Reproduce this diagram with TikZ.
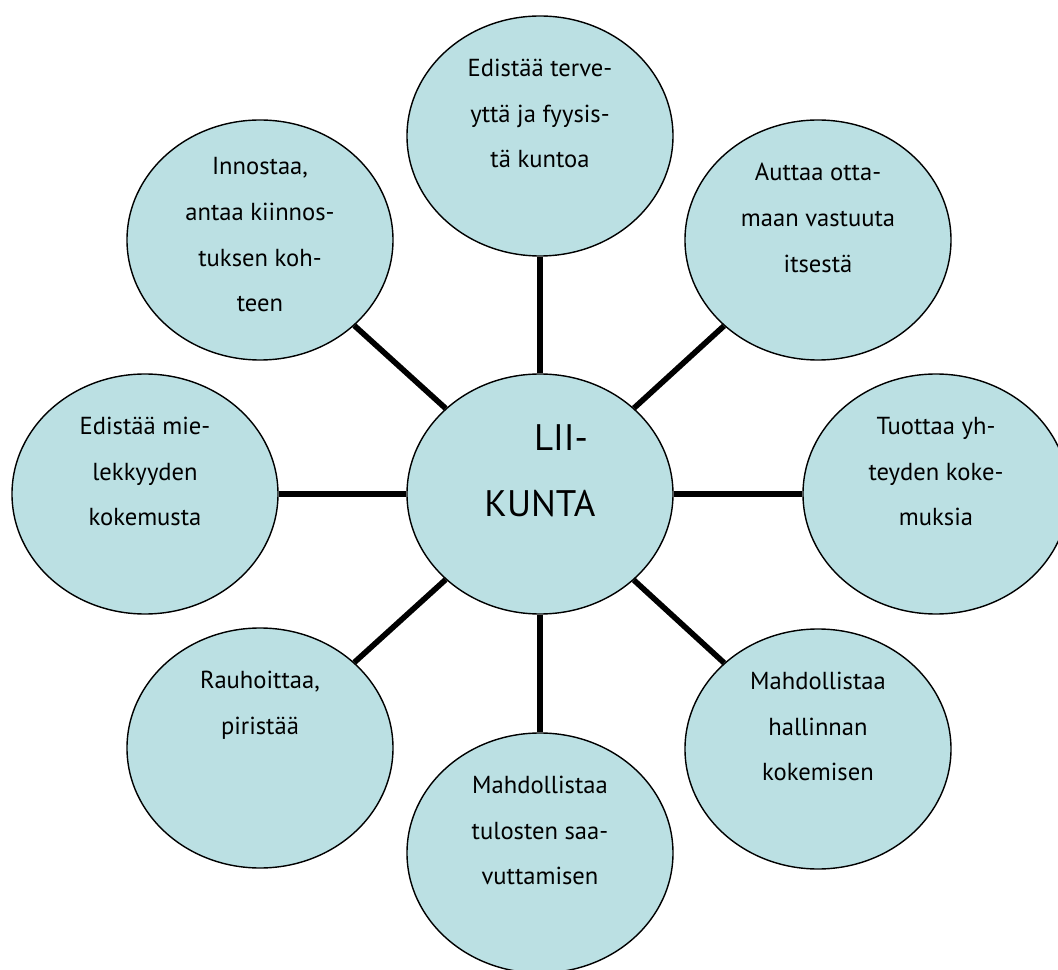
\documentclass[tikz,border=0pt]{standalone}
\usepackage{fontspec}
\setmainfont{PT Sans}
\usetikzlibrary{positioning,shapes.geometric}
\definecolor{pale}{RGB}{187,224,227}

\begin{document}
\begin{tikzpicture}[main/.style = {draw, ellipse, on grid, fill=pale, line width=0.8pt, minimum width=5.32cm, minimum height=4.8cm, inner sep=0pt}, txt/.style = {align=center, inner sep=0pt, font=\fontsize{14}{26}\selectfont}, link/.style = {line width=3.2pt}]
		\useasboundingbox (-10.8,-9.52) rectangle (10.36,9.88);
		\node[main] (0) {};
		\node[main] (1) [above=7.16cm of 0] {};
		\node[main] (2) [above right=5.08cm and 5.56cm of 0] {};
		\node[main] (3) [right=7.92cm of 0] {};
		\node[main] (4) [below right=5.1cm and 5.56cm of 0] {};
		\node[main] (5) [below=7.18cm of 0] {};
		\node[main] (6) [below left=5.08cm and 5.6cm of 0] {};
		\node[main] (7) [left=7.9cm of 0] {};
		\node[main] (8) [above left=5.08cm and 5.6cm of 0] {};
		\foreach \i in {1,...,8}
			\draw[link] (0) -- (\i);
		% texts
		\node[txt, font=\fontsize{21}{37.6}\selectfont] (t0) [below=1.02cm of 0.north] {\hspace*{0.84cm}LII-\\KUNTA};
		\node[txt] (t1) [below=0.87cm of 1.north] {Edistää terve-\\yttä ja fyysis-\\tä kuntoa};
		\node[txt] (t2) [below=0.87cm of 2.north] {Auttaa otta-\\maan vastuuta\\itsestä};
		\node[txt] (t3) [below=0.87cm of 3.north] {Tuottaa yh-\\teyden koke-\\muksia};
		\node[txt] (t4) [below=0.87cm of 4.north] {Mahdollistaa\\hallinnan\\kokemisen};
		\node[txt] (t5) [below=0.87cm of 5.north] {Mahdollistaa\\tulosten saa-\\vuttamisen};
		\node[txt] (t6) [below=0.87cm of 6.north] {Rauhoittaa,\\piristää};
		\node[txt] (t7) [below=0.87cm of 7.north] {Edistää mie-\\lekkyyden\\kokemusta};
		\node[txt] (t8) [below=0.76cm of 8.north] {Innostaa,\\antaa kiinnos-\\tuksen koh-\\teen};
	\end{tikzpicture}
\end{document}
